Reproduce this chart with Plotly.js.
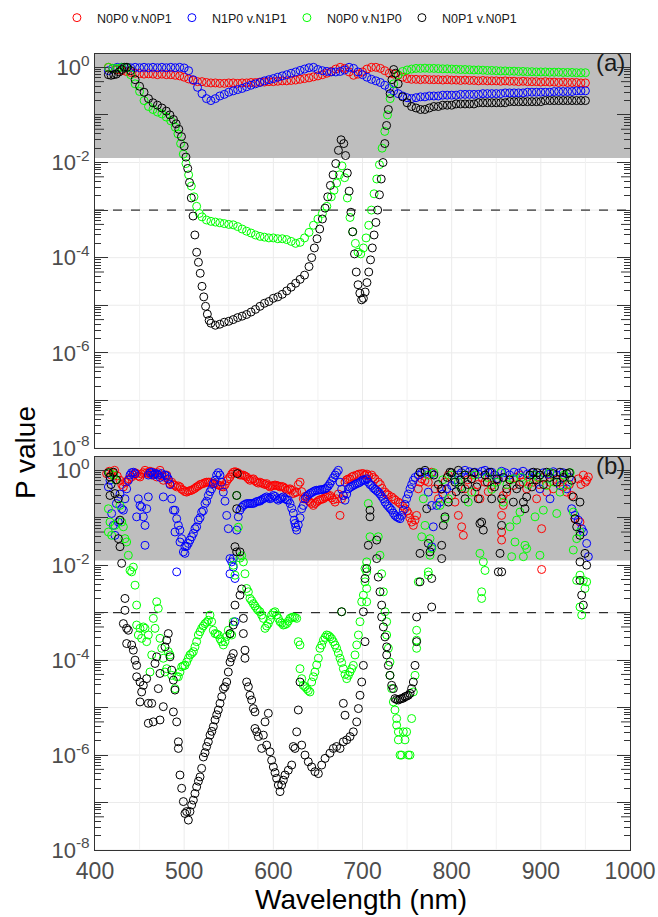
<!DOCTYPE html>
<html><head><meta charset="utf-8">
<script src="https://cdn.plot.ly/plotly-3.0.1.min.js"></script>
<style>html,body{margin:0;padding:0;background:#fff}#chart{width:658px;height:917px}</style>
</head><body><div id="chart"></div>
<script>
// ---------- legend / series names ----------
const seriesNames = ['N0P0 v.N0P1', 'N1P0 v.N1P1', 'N0P0 v.N1P0', 'N0P1 v.N0P1'];
const seriesColors = ['#FF0000', '#0000FF', '#00FF00', '#000000'];

// ---------- panel (a): P values ----------
const wlA = [415,420,425,430,435,440,445,450,455,460,465,470,475,480,485,490,495,500,505,510,515,520,525,530,535,540,545,550,555,560,565,570,575,580,585,590,595,600,605,610,615,620,625,630,635,640,645,650,655,660,665,670,675,680,685,690,695,700,705,710,715,720,725,730,735,740,745,750,755,760,765,770,775,780,785,790,795,800,805,810,815,820,825,830,835,840,845,850,855,860,865,870,875,880,885,890,895,900,905,910,915,920,925,930,935,940,945,950];
const redA = [1.0,0.95,0.9,0.85,0.82,0.78,0.75,0.74,0.72,0.73,0.72,0.7,0.72,0.7,0.7,0.68,0.66,0.62,0.57,0.53,0.5,0.5,0.48,0.47,0.47,0.46,0.46,0.47,0.47,0.46,0.47,0.47,0.48,0.48,0.49,0.49,0.5,0.5,0.51,0.52,0.52,0.53,0.54,0.56,0.58,0.6,0.63,0.66,0.7,0.75,0.82,0.92,1.0,0.95,0.8,0.68,0.72,0.8,0.92,1.0,1.0,0.95,0.85,0.75,0.72,0.68,0.62,0.58,0.56,0.56,0.55,0.56,0.55,0.55,0.55,0.54,0.55,0.54,0.54,0.53,0.54,0.53,0.53,0.52,0.53,0.52,0.52,0.52,0.51,0.52,0.51,0.51,0.5,0.51,0.5,0.5,0.5,0.49,0.5,0.49,0.49,0.48,0.49,0.48,0.48,0.48,0.47,0.47];
const blueA = [0.85,0.95,1.0,1.0,1.0,0.98,1.0,0.98,1.0,0.98,1.0,0.98,1.0,0.98,1.0,0.98,1.0,0.97,0.85,0.55,0.38,0.28,0.22,0.2,0.22,0.25,0.27,0.3,0.32,0.34,0.36,0.39,0.42,0.45,0.48,0.52,0.55,0.58,0.62,0.66,0.7,0.75,0.8,0.86,0.92,0.98,1.0,0.9,0.85,0.82,0.8,0.8,0.82,0.88,1.0,0.95,0.8,0.7,0.62,0.56,0.52,0.48,0.42,0.36,0.32,0.28,0.25,0.23,0.22,0.23,0.24,0.24,0.25,0.25,0.25,0.26,0.26,0.26,0.26,0.27,0.27,0.27,0.27,0.27,0.28,0.28,0.28,0.28,0.28,0.29,0.29,0.29,0.29,0.29,0.3,0.3,0.3,0.3,0.3,0.3,0.31,0.31,0.31,0.31,0.31,0.32,0.32,0.32];
const wlGreenA = [415,420,425,430,435,440,445,450,455,460,465,470,475,480,485,490,493,496,499,502,505,508,511,514,517,520,525,530,535,540,545,550,555,560,565,570,575,580,585,590,595,600,605,610,615,620,625,630,635,640,645,650,655,660,665,668,671,674,677,680,683,686,689,692,695,698,701,704,707,710,713,716,719,722,725,728,731,735,740,745,750,755,760,765,770,775,780,785,790,795,800,805,810,815,820,825,830,835,840,845,850,855,860,865,870,875,880,885,890,895,900,905,910,915,920,925,930,935,940,945,950];
const greenA = [1.0,0.95,0.95,1.0,1.0,0.7,0.45,0.31,0.2,0.15,0.13,0.115,0.105,0.09,0.075,0.055,0.04,0.025,0.015,0.0095,0.0055,0.0032,0.0019,0.0012,0.00085,0.00072,0.00062,0.00058,0.00056,0.00054,0.00052,0.0005,0.00049,0.00045,0.0004,0.00036,0.00033,0.0003,0.00028,0.00027,0.00026,0.00026,0.00025,0.00025,0.00024,0.00022,0.0002,0.00021,0.00026,0.00034,0.00048,0.00065,0.00085,0.0012,0.0019,0.0026,0.0037,0.0055,0.0085,0.0048,0.0018,0.0007,0.00035,0.0002,0.00013,0.00012,0.00016,0.00026,0.00048,0.001,0.0022,0.0045,0.009,0.02,0.045,0.1,0.22,0.45,0.7,0.82,0.88,0.92,0.95,0.95,0.96,0.95,0.95,0.94,0.93,0.93,0.92,0.91,0.9,0.9,0.89,0.88,0.88,0.87,0.86,0.86,0.85,0.84,0.84,0.83,0.83,0.82,0.82,0.81,0.81,0.8,0.8,0.8,0.79,0.79,0.79,0.78,0.78,0.78,0.77,0.77,0.77];
const wlBlackA = [415,418,421,424,427,430,433,436,440,445,450,455,460,465,470,475,480,484,488,491,494,497,500,502,504,506,508,510,512,514,516,518,520,522,524,526,528,530,535,540,545,550,555,560,565,570,575,580,585,590,595,600,605,610,615,620,625,630,635,640,643,646,649,652,655,658,661,664,667,670,673,676,679,681,683,685,687,689,691,693,695,697,699,701,703,705,707,709,711,713,715,717,719,721,723,725,727,729,731,733,735,737,740,745,750,755,760,765,770,775,780,785,790,795,800,805,810,815,820,825,830,835,840,845,850,855,860,865,870,875,880,885,890,895,900,905,910,915,920,925,930,935,940,945,950];
const blackA = [0.7,0.68,0.7,0.72,0.8,0.9,1.0,1.0,0.85,0.55,0.4,0.3,0.22,0.18,0.16,0.14,0.12,0.1,0.08,0.065,0.05,0.035,0.022,0.013,0.0075,0.0038,0.0018,0.00075,0.0003,0.00013,0.00008,0.000047,0.000025,0.000015,0.0000095,0.0000065,0.0000048,0.0000042,0.0000038,0.000004,0.0000044,0.0000046,0.000005,0.0000055,0.0000059,0.0000064,0.0000072,0.0000082,0.0000095,0.000011,0.000012,0.000014,0.000015,0.000017,0.00002,0.000024,0.000029,0.000035,0.000043,0.000065,0.0001,0.00016,0.00025,0.0004,0.00065,0.0011,0.0019,0.0033,0.0055,0.0095,0.018,0.03,0.025,0.014,0.006,0.0025,0.0009,0.00035,0.00012,0.00005,0.000027,0.000018,0.000013,0.000014,0.000019,0.00003,0.00005,0.00009,0.00016,0.0003,0.00055,0.001,0.0021,0.0045,0.01,0.025,0.06,0.13,0.28,0.55,0.9,0.75,0.45,0.24,0.18,0.15,0.14,0.13,0.13,0.14,0.15,0.15,0.16,0.16,0.16,0.17,0.17,0.17,0.17,0.17,0.18,0.18,0.18,0.18,0.18,0.18,0.18,0.19,0.19,0.19,0.19,0.19,0.19,0.19,0.19,0.2,0.2,0.2,0.2,0.2,0.2,0.2,0.2,0.2,0.2];

// ---------- panel (b): [wavelength nm, log10(P value)] ----------
const bRedPts = [[413,-0.07],[416,-0.02],[418,-0.1],[420,-0.05],[422,0],[425,-0.12],[428,-0.21],[430,-0.3],[431.8,-0.35],[433.6,-0.25],[435.5,-0.25],[438,-0.18],[441.1,-0.14],[443,-0.1],[444.9,-0.05],[446.7,-0.07],[448.6,-0.12],[450.5,-0.14],[452.3,-0.08],[454.2,-0.05],[456.1,0],[458,-0.05],[459.8,-0.07],[461.7,-0.02],[463.6,-0.1],[465.4,-0.04],[467.3,-0.08],[469.2,-0.14],[471,-0.05],[472.9,0],[474.8,-0.12],[476.6,-0.21],[478.5,-0.15],[480.4,-0.1],[482.2,-0.2],[484.1,-0.28],[486,-0.25],[487.9,-0.3],[489.7,-0.32],[491.6,-0.35],[493.5,-0.33],[495.3,-0.35],[497.2,-0.4],[499.1,-0.42],[500.9,-0.45],[502.8,-0.46],[504.7,-0.44],[506.5,-0.43],[508.4,-0.42],[510.3,-0.4],[512.1,-0.38],[514,-0.35],[515.9,-0.33],[517.8,-0.3],[519.6,-0.29],[521.5,-0.28],[523.4,-0.26],[525.2,-0.25],[527.1,-0.25],[529,-0.25],[530.8,-0.27],[532.7,-0.28],[534.6,-0.28],[536.5,-0.3],[538.3,-0.31],[540.2,-0.32],[542,-0.34],[544,-0.35],[546,-0.3],[548,-0.22],[549.5,-0.18],[551.4,-0.14],[553.3,-0.08],[555.1,-0.04],[557,-0.03],[558.9,-0.04],[560.7,-0.06],[562.6,-0.1],[564.5,-0.1],[566.4,-0.1],[568.2,-0.12],[570.1,-0.14],[572,-0.18],[573.8,-0.21],[575.7,-0.19],[577.6,-0.18],[579.4,-0.22],[581.3,-0.25],[583.2,-0.27],[585,-0.25],[586.9,-0.27],[588.8,-0.28],[590.7,-0.3],[592.5,-0.28],[594.4,-0.32],[596.3,-0.35],[598.1,-0.33],[600,-0.32],[601.9,-0.31],[603.7,-0.32],[605.6,-0.33],[607.5,-0.35],[609.3,-0.34],[611.2,-0.35],[613.1,-0.38],[615,-0.42],[616.8,-0.4],[618.7,-0.39],[620.6,-0.42],[622.4,-0.49],[624.3,-0.47],[626.2,-0.46],[628,-0.3],[630,-0.25],[631.8,-0.45],[633.6,-0.6],[635.5,-0.55],[637.4,-0.6],[639.2,-0.64],[641.1,-0.67],[643,-0.7],[644.9,-0.74],[646.7,-0.7],[648.6,-0.67],[650.5,-0.64],[652.3,-0.62],[654.2,-0.61],[656.1,-0.6],[658,-0.57],[659.8,-0.56],[661.7,-0.54],[663.5,-0.53],[665.4,-0.58],[667.3,-0.62],[669.2,-0.67],[671,-0.6],[672.9,-0.5],[674.8,-0.95],[676.6,-0.6],[678.5,-0.53],[680.4,-0.25],[682.3,-0.2],[684.2,-0.18],[686,-0.18],[688,-0.14],[690,-0.12],[693.5,-0.1],[696,-0.08],[699,-0.07],[701,-0.07],[702.8,-0.1],[705,-0.08],[707,-0.12],[710.3,-0.1],[712,-0.15],[714,-0.18],[717.7,-0.25],[720,-0.3],[722,-0.38],[725.2,-0.46],[727,-0.5],[729,-0.52],[732.7,-0.56],[735,-0.6],[737,-0.63],[740.2,-0.67],[742,-0.7],[745,-0.75],[747.7,-0.81],[750,-0.86],[751.4,-0.91],[753,-1.0],[755.1,-1.09],[757,-1.16],[758.9,-1.05],[760.7,-0.95],[762.6,-0.39],[764.5,-0.25],[766.4,-0.18],[770,-0.22],[773.8,-0.25],[777.6,-0.04],[781.3,-0.39],[785.1,-0.6],[788,-0.4],[792.5,-0.25],[796.3,-0.1],[800,-0.53],[803.7,-0.67],[807.5,-0.95],[811.2,-1.19],[813.1,-1.37],[815,-0.39],[818,-0.2],[822.4,-0.1],[826.1,-0.46],[829,-0.3],[831.7,-0.6],[834,-0.15],[837.4,-0.25],[841,-0.45],[844.9,-0.32],[848,-0.1],[852,-0.2],[856,-0.95],[856,-1.3],[856,-1.47],[857.9,-0.53],[857.9,-0.74],[861.7,-0.46],[865,-0.2],[869.2,-0.32],[872,-0.15],[876.6,-0.1],[880,-0.25],[884.1,-0.39],[888,-0.2],[891.6,-0.25],[895.3,-0.6],[898,-0.3],[900.9,-1.23],[900.9,-2.09],[903,-0.15],[906.5,-0.46],[910,-0.25],[914,-0.39],[918,-0.2],[921.5,-0.25],[925,-0.35],[929,-0.46],[932,-0.3],[934.6,-0.53],[938.3,-1.02],[942,-0.18],[943.9,-1.09],[945,-0.3],[947.7,-0.1],[950,-0.25],[951.4,-0.21],[953.3,-0.14]];
const bBluePts = [[415,-0.35],[416.8,-0.21],[418.7,-0.91],[420.6,-1.16],[422.4,-1.37],[424,-0.7],[426.2,-1.09],[428,-0.5],[430,-0.81],[431.8,-0.84],[433.6,-0.6],[435.5,-0.39],[437.4,-0.21],[439.3,-0.1],[441,-0.05],[443,-0.04],[444.9,-0.07],[446.7,-0.98],[448.6,-0.6],[450.5,-0.74],[452.3,-0.77],[454.2,-0.98],[456.1,-1.16],[456.1,-1.58],[458,-0.81],[459.8,-0.56],[459.8,-0.1],[461.7,-0.05],[463.6,-0.04],[465.4,-0.1],[467.3,-0.07],[469.2,-0.07],[471,-0.1],[473,-0.15],[474.8,-0.07],[476.6,-0.56],[478.5,-0.1],[480.4,-0.12],[482.2,-0.18],[484.1,-0.3],[486,-0.6],[487.9,-0.84],[489.7,-0.84],[489.7,-1.3],[491.6,-1.02],[491.6,-2.14],[493.5,-1.16],[495.3,-1.26],[495.3,-1.51],[497.2,-1.44],[499.1,-1.72],[500.9,-1.75],[500.9,-1.61],[502.8,-1.6],[504.7,-1.54],[506.5,-1.47],[508.4,-1.4],[510.3,-1.33],[512.1,-1.23],[514,-1.19],[515.9,-1.05],[517.8,-1.0],[519.6,-0.88],[521.5,-0.85],[523.4,-0.7],[525.2,-0.65],[527.1,-0.53],[529,-0.45],[530.8,-0.39],[532.7,-0.28],[534.6,-0.21],[536.4,-0.1],[538.3,-0.05],[540.2,-0.1],[542,-0.25],[543.9,-0.46],[545.8,-0.65],[547.7,-0.95],[549.5,-1.23],[551.4,-1.86],[551.4,-2.18],[553.3,-1.93],[555.1,-2.04],[557,-2.28],[555.1,-1.86],[557,-3.19],[558.9,-1.26],[560.7,-0.98],[562.6,-0.84],[564.5,-0.78],[566.4,-0.74],[568.2,-0.72],[570.1,-0.7],[572,-0.7],[573.8,-0.7],[575.7,-0.7],[577.6,-0.7],[579.4,-0.68],[581.3,-0.66],[583.2,-0.65],[585,-0.65],[586.9,-0.62],[588.8,-0.6],[590.7,-0.58],[592.5,-0.56],[594.4,-0.58],[596.3,-0.6],[598.1,-0.57],[600,-0.53],[601.9,-0.55],[603.7,-0.6],[605.6,-0.63],[607.5,-0.6],[609.3,-0.58],[611.2,-0.56],[613.1,-0.6],[615,-0.62],[616.8,-0.63],[618.7,-0.7],[620.6,-0.8],[622.4,-0.9],[623.4,-1.05],[624.3,-1.12],[625.2,-1.2],[626.2,-1.26],[628,-1.15],[630,-1.0],[631.8,-0.81],[633.6,-0.74],[635.5,-0.6],[637.4,-0.55],[639.2,-0.52],[641.1,-0.49],[643,-0.47],[644.9,-0.45],[646.7,-0.43],[648.6,-0.42],[650.5,-0.42],[652.3,-0.41],[654.2,-0.41],[656.1,-0.4],[658,-0.39],[659.8,-0.37],[661.7,-0.33],[663.5,-0.28],[665.4,-0.22],[667.3,-0.16],[669.2,-0.1],[671,-0.05],[672.9,0],[674.8,-0.25],[676.6,-0.4],[678.5,-0.53],[680.4,-0.63],[682.3,-0.5],[684.2,-0.39],[686,-0.36],[687.9,-0.34],[689.7,-0.32],[691.6,-0.3],[693.5,-0.28],[695.4,-0.27],[697.2,-0.25],[699.1,-0.22],[701,-0.2],[702.8,-0.21],[704.7,-0.18],[706.5,-0.25],[708.4,-0.3],[710.3,-0.32],[712.1,-0.37],[714,-0.4],[715.9,-0.43],[717.7,-0.46],[719.6,-0.5],[721.5,-0.55],[723.4,-0.6],[725.2,-0.67],[727.1,-0.72],[729,-0.76],[730.8,-0.8],[732.7,-0.84],[734.6,-0.9],[736.4,-0.95],[738.3,-0.98],[740.2,-1.0],[742.1,-1.02],[743.9,-0.95],[745.8,-0.84],[747.7,-0.72],[749.5,-0.6],[751.4,-0.5],[753.3,-0.39],[755.1,-0.3],[757,-0.21],[759,-0.15],[762.6,-0.1],[766.4,-0.06],[770.1,-0.04],[773.8,-0.46],[777.6,-0.07],[777.6,-0.74],[779.4,-1.19],[777.6,-1.61],[783.2,-0.74],[786.9,-0.67],[790,-0.5],[794.4,-0.39],[800,-0.32],[803.7,-0.2],[807.5,-0.1],[811,-0.05],[815,0],[820,-0.03],[826.1,-0.04],[830,-0.08],[834,-0.02],[837.4,0],[841,-0.05],[844.9,-0.04],[848,-0.1],[852.3,-0.18],[856,-0.02],[860,-0.05],[865,-0.1],[870,-0.04],[875,-0.06],[880,-0.02],[885,-0.08],[890,-0.05],[895,-0.1],[899,-0.39],[903,-0.05],[908,-0.08],[910.3,-0.6],[914,-0.03],[918,-0.1],[921.5,-0.32],[925,-0.05],[929,-0.39],[932,-0.15],[934.6,-0.81],[938.3,-0.95],[942,-1.05],[945.8,-1.23],[947.7,-1.3],[951.4,-1.54],[953.3,-1.82]];
const bGreenPts = [[416,-0.05],[421,-0.1],[423,-0.2],[415,-0.81],[416.8,-1.09],[415,-1.3],[418.7,-1.37],[422.4,-1.16],[428,-0.74],[430,-1.09],[431.8,-1.19],[433.6,-1.44],[435.5,-1.51],[437.4,-1.79],[439.3,-2.11],[441.1,-2.14],[443,-2.04],[444.9,-2.42],[446.7,-2.84],[446.7,-3.26],[448.6,-3.47],[450.5,-3.33],[452.3,-3.54],[454.2,-3.3],[456.1,-3.33],[457.9,-3.61],[459.8,-3.47],[461.7,-4.25],[463.6,-3.89],[465.4,-3.12],[467.3,-3.33],[469.2,-2.77],[471,-2.91],[472.9,-3.54],[474.8,-3.75],[476.6,-3.96],[478.5,-4.25],[480.4,-4.18],[482.2,-3.82],[484.1,-3.89],[486,-4.32],[489.7,-4.6],[491.6,-4.35],[493.5,-4.35],[495.3,-4.25],[497.2,-4.14],[499,-4.12],[500.9,-4.11],[502.8,-4.04],[504.7,-3.96],[506.5,-3.89],[508.4,-3.86],[510.3,-3.82],[512.1,-3.72],[514,-3.61],[515.9,-3.47],[517.8,-3.4],[519.6,-3.33],[521.5,-3.28],[523.4,-3.23],[525.3,-3.2],[527.1,-3.16],[529,-3.05],[530.8,-3.19],[532.7,-3.37],[534.6,-3.44],[536.5,-3.45],[538.3,-3.47],[540.2,-3.55],[542,-3.61],[543.9,-3.68],[545.8,-3.61],[547.7,-3.5],[549.5,-3.37],[551.4,-3.45],[553.3,-3.47],[555.1,-3.19],[555.1,-2.0],[557,-2.21],[558.9,-0.53],[560.7,-1.2],[562.6,-1.85],[564.5,-1.8],[566.4,-1.93],[568.2,-2.18],[570.1,-2.49],[572,-2.56],[573.8,-2.7],[575.7,-2.75],[577.6,-2.81],[579.4,-2.86],[581.3,-2.91],[583,-2.95],[585,-2.98],[586.9,-3.05],[588.8,-3.12],[590.7,-3.33],[592.5,-3.28],[594.4,-3.23],[596.3,-3.15],[598.1,-3.05],[600,-3.0],[601.9,-2.98],[603.7,-3.05],[605.6,-3.12],[607.5,-3.19],[609.4,-3.22],[611.2,-3.26],[613.1,-3.25],[615,-3.23],[616.8,-3.18],[618.7,-3.12],[620.6,-3.1],[622.4,-3.09],[624.3,-3.1],[626.2,-3.12],[628,-3.61],[629.9,-3.68],[629.9,-4.18],[631.8,-4.39],[633.6,-4.53],[635.5,-4.56],[637.4,-4.6],[639.2,-4.64],[641.1,-4.67],[643,-4.46],[644.9,-4.35],[646.7,-4.25],[648.6,-4.1],[650.5,-3.96],[652.3,-3.75],[654.2,-3.68],[656.1,-3.58],[658,-3.52],[659.8,-3.47],[661.7,-3.48],[663.5,-3.51],[665.4,-3.55],[667.3,-3.61],[669.2,-3.68],[671,-3.75],[672.9,-3.85],[674.8,-3.96],[676.6,-4.05],[678.5,-4.18],[680.4,-4.3],[682.3,-4.39],[684.2,-4.32],[686,-4.25],[687.9,-4.18],[689.7,-4.11],[691.6,-3.89],[693.5,-3.68],[695.4,-3.47],[697.2,-3.19],[699.1,-2.77],[701,-2.63],[702.8,-2.35],[702.8,-2.07],[676.6,-2.98],[704.7,-1.93],[704.7,-2.14],[704.7,-2.49],[704.7,-2.77],[708.4,-1.4],[706.5,-0.7],[717.7,-1.4],[719.6,-1.79],[721.5,-2.18],[723.4,-2.56],[725.2,-2.98],[727.1,-3.19],[727.1,-3.47],[729,-3.75],[730.8,-4.04],[730.8,-4.32],[732.7,-4.6],[734.6,-4.88],[736.4,-5.05],[738.3,-5.23],[738.3,-5.37],[740.2,-5.51],[740.2,-5.68],[742.1,-6.0],[743.9,-6.0],[745.8,-5.51],[747.7,-5.68],[749.5,-5.51],[751.4,-6.0],[753.3,-6.0],[755.1,-5.23],[757,-4.67],[758.9,-4.32],[760.7,-3.75],[760.7,-3.58],[760.7,-3.37],[762.6,-2.35],[766.4,-1.4],[768.2,-0.6],[770.1,-1.16],[773.8,-2.14],[773.8,-2.21],[773.8,-0.1],[775.7,-1.79],[775.7,-1.44],[777.6,-1.65],[780,-0.05],[786.9,-0.74],[790,-0.2],[792.5,-1.02],[796.3,-0.6],[800,-0.1],[807.5,-0.25],[810,-0.35],[815,-0.1],[818.6,-0.67],[822.4,-0.46],[826,-0.1],[831.7,-1.75],[835.5,-1.93],[837.4,-2.11],[833.6,-2.56],[833.6,-2.7],[840,-0.15],[845,-0.4],[850.5,-0.25],[855,-0.05],[858,-0.67],[862,-0.3],[865.4,-1.19],[867.3,-1.82],[869.2,-0.18],[871,-1.51],[872.9,-1.05],[876.6,-0.88],[878,-0.15],[880.4,-1.82],[882.2,-1.58],[884.1,-1.65],[886,-0.3],[891.6,-0.1],[893.5,-0.98],[897,-0.15],[899,-1.79],[902.8,-0.84],[906.5,-0.32],[910,-0.05],[915,-0.25],[917.8,-0.91],[921.5,-0.46],[926,-0.1],[930,-0.3],[933,-0.05],[936.4,-0.88],[940.2,-1.44],[936.4,-1.68],[940.2,-2.32],[943.9,-2.21],[947.7,-2.32],[951.4,-2.35],[949.5,-2.49],[943.9,-2.88],[945.8,-3.05],[943.9,-1.3]];
const bBlackPts = [[415,-0.05],[416.8,-0.14],[418,-0.3],[420.6,-0.04],[422.4,-0.49],[416.8,-0.53],[424,-0.2],[426.2,-0.6],[428,-1.05],[426.2,-1.44],[428,-1.61],[429.9,-1.96],[431.8,-3.23],[433.6,-2.7],[433.6,-2.95],[435.5,-3.33],[437.4,-3.37],[435.5,-3.65],[441.1,-3.68],[443,-3.79],[444.9,-4.0],[446.7,-4.11],[446.7,-4.35],[450.5,-4.46],[452.3,-4.67],[450.5,-4.88],[454.2,-4.53],[457.9,-4.39],[459.8,-4.91],[459.8,-5.33],[465.4,-5.3],[463.6,-4.91],[467.3,-4.07],[469.2,-3.93],[472.9,-4.28],[471,-4.6],[472.9,-5.26],[476.6,-4.98],[478.5,-3.72],[480.4,-3.58],[482.2,-3.44],[484.1,-3.93],[486,-4.21],[487.9,-4.42],[489.7,-4.63],[487.9,-5.09],[491.6,-5.3],[493.5,-5.72],[493.5,-5.86],[495.3,-6.42],[497.2,-6.7],[499.1,-6.98],[500.9,-7.23],[502.8,-7.19],[504.7,-7.37],[506.5,-7.19],[508.4,-7.05],[510.3,-6.95],[512.1,-6.81],[514,-6.67],[516,-6.55],[517.8,-6.46],[519.6,-6.28],[521.5,-6.04],[523.4,-5.95],[525.2,-5.82],[527.1,-5.72],[529,-5.58],[531,-5.5],[532.7,-5.4],[534.6,-5.26],[536.5,-5.15],[538.3,-5.05],[540.2,-4.91],[542.1,-4.77],[544,-4.6],[545.8,-4.56],[547.7,-4.46],[549.5,-4.25],[551.4,-4.04],[553,-3.95],[555.1,-3.86],[551.4,-3.44],[555.1,-3.26],[557,-2.84],[562.6,-2.63],[558.9,-1.72],[562.6,-1.72],[557,-1.61],[558.9,-0.81],[558.9,-0.53],[559.6,-0.07],[564.5,-2.5],[566.4,-3.12],[566.4,-3.44],[568.2,-3.79],[568.2,-3.96],[570.1,-4.46],[572,-4.56],[573.8,-4.74],[575.7,-4.84],[577.6,-5.02],[579.4,-5.09],[579.4,-5.44],[581.3,-5.51],[583.2,-5.61],[586.9,-5.86],[588.8,-5.58],[590.7,-5.3],[594.4,-5.12],[592.5,-5.79],[596.3,-5.93],[598.1,-6.11],[600,-6.25],[601.9,-6.37],[603.7,-6.49],[605.6,-6.63],[607.5,-6.77],[609.3,-6.63],[611.2,-6.53],[613.1,-6.42],[616.8,-6.32],[620.6,-6.21],[622.4,-5.82],[624.3,-5.86],[626.2,-5.51],[628,-5.05],[629.9,-4.46],[631.8,-5.79],[635.5,-6.0],[639.2,-6.14],[643,-6.25],[646.7,-6.35],[650.5,-6.39],[654.2,-6.21],[658,-6.07],[663.5,-5.96],[667.3,-5.86],[671,-5.82],[674.8,-5.86],[678.5,-5.72],[682.3,-5.68],[686,-5.61],[689.7,-5.51],[693.5,-5.3],[695.4,-5.02],[697.2,-4.74],[699.1,-4.46],[701,-4.11],[702.8,-3.61],[701,-2.98],[702.8,-2.28],[704.7,-2.07],[678.5,-4.91],[680.4,-5.16],[676.6,-2.98],[706.5,-1.58],[708.4,-0.84],[708.4,-0.98],[715.9,-1.47],[715.9,-1.86],[717.7,-2.25],[719.6,-2.56],[721.5,-2.84],[721.5,-3.09],[723.4,-3.3],[725.2,-3.51],[727.1,-3.72],[727.1,-3.89],[729,-4.11],[730.8,-4.32],[732.7,-4.53],[734.6,-4.6],[736.4,-4.81],[738.3,-4.83],[740.2,-4.84],[742,-4.82],[743.9,-4.81],[745.8,-4.8],[747.7,-4.77],[749.5,-4.76],[751.4,-4.74],[753.3,-4.7],[755.1,-4.6],[757,-4.46],[758.9,-4.11],[760.7,-3.61],[760.7,-3.09],[764.5,-2.35],[777.6,-2.28],[777.6,-2.88],[764.5,-1.75],[773.8,-1.54],[775.7,-1.72],[788.8,-1.58],[788.8,-1.86],[790.6,-1.16],[792.5,-0.98],[772,-0.81],[770.1,0],[764.5,-0.04],[780,-0.1],[785,-0.3],[788.8,-0.39],[795,-0.15],[796.3,-0.67],[798.1,-0.04],[800,-0.05],[803.7,-0.25],[805,-0.45],[807.5,0],[810,-0.2],[811.2,-0.39],[815,-0.1],[815,-0.6],[818,-0.3],[822.4,-0.18],[825,-0.05],[828,-0.35],[829.9,-0.6],[831.7,-1.12],[833.6,-1.09],[835.5,-1.26],[837.4,-0.1],[840,-0.25],[843,-0.04],[844.9,-0.6],[848,-0.35],[850.5,-0.18],[852.3,-2.14],[854.2,-1.75],[856.1,-2.14],[856,-1.16],[856,-0.6],[858,-0.15],[861.7,-0.39],[865,-0.2],[869.2,-0.67],[872.9,-0.39],[876,-0.3],[880.4,-0.67],[882.2,-0.81],[884.1,-0.56],[887.8,-0.1],[890,-0.35],[891.6,-0.04],[895,-0.2],[896,-0.05],[899,-0.1],[903,-0.3],[906.5,-0.04],[910,-0.15],[914,-0.07],[918,-0.25],[921.5,-0.04],[925,-0.15],[929,-0.07],[932,-0.05],[934.6,-0.21],[936.4,-0.56],[938.3,-1.02],[940.2,-1.19],[943.9,-1.37],[943.9,-0.67],[949.5,-1.75],[943.9,-1.93],[951.4,-2.0],[943.9,-2.32],[945.8,-2.63],[947.7,-2.84]];

// ---------- axis tick labels ----------
const decadeVals = [1, 1e-1, 1e-2, 1e-3, 1e-4, 1e-5, 1e-6, 1e-7, 1e-8];
const decadeText = ['10<sup>0</sup>', '', '10<sup>-2</sup>', '', '10<sup>-4</sup>', '', '10<sup>-6</sup>', '', '10<sup>-8</sup>'];
const xTickVals = [400, 500, 600, 700, 800, 900, 1000];
const xGridVals = [450, 500, 550, 600, 650, 700, 750, 800, 850, 900, 950];
const sigLevel = 0.0125;   // shaded region boundary
const dashLevel = 0.001;   // dashed reference line

// ---------- build ----------
const FONT = 'Liberation Sans, Arial, sans-serif';
const xs = p => p.map(d => d[0]);
const ys = p => p.map(d => Math.pow(10, d[1]));

function trace(x, y, i, xa, ya, show) {
  return {type: 'scatter', mode: 'markers', x: x, y: y, name: seriesNames[i],
    xaxis: xa, yaxis: ya, showlegend: show, hoverinfo: 'skip',
    marker: {symbol: 'circle-open', size: 8, color: seriesColors[i], line: {width: 1, color: seriesColors[i]}}};
}
const data = [
  trace(wlA, redA, 0, 'x2', 'y2', true),
  trace(wlA, blueA, 1, 'x2', 'y2', true),
  trace(wlGreenA, greenA, 2, 'x2', 'y2', true),
  trace(wlBlackA, blackA, 3, 'x2', 'y2', true),
  trace(xs(bRedPts), ys(bRedPts), 0, 'x', 'y', false),
  trace(xs(bBluePts), ys(bBluePts), 1, 'x', 'y', false),
  trace(xs(bGreenPts), ys(bGreenPts), 2, 'x', 'y', false),
  trace(xs(bBlackPts), ys(bBlackPts), 3, 'x', 'y', false)
];

const minorVals = [];
const midVals = [];
for (let e = -8; e <= 0; e++) {
  [2, 3, 4, 6, 7, 8, 9].forEach(k => { const v = k * Math.pow(10, e - 1); if (v > 1e-8) minorVals.push(v); });
  const m = 5 * Math.pow(10, e - 1); if (m > 1e-8) midVals.push(m);
}
const YTOP = 0.28;
const yCommon = {
  type: 'log', range: [-8, YTOP], tickmode: 'array', tickvals: decadeVals, ticktext: decadeText,
  ticks: 'inside', ticklen: 13, tickwidth: 1, tickcolor: '#333333', mirror: 'allticks',
  showline: true, linecolor: '#333333', linewidth: 1, showgrid: false,
  zeroline: false, tickfont: {family: FONT, size: 22, color: '#4d4d4d'},
  minor: {tickmode: 'array', tickvals: minorVals, ticks: 'inside', ticklen: 6, tickwidth: 1, tickcolor: '#333333', showgrid: false}
};
const xCommon = {
  range: [400, 1000], tickmode: 'array', tickvals: xTickVals, showline: true, mirror: true,
  linecolor: '#333333', linewidth: 1, showgrid: false, zeroline: false
};

// shapes on these log axes take plain data values
const shapes = [];
[['x', 'y'], ['x2', 'y2']].forEach(([xa, ya]) => {
  decadeVals.forEach(v => {
    shapes.push({type: 'line', xref: xa + ' domain', yref: ya, x0: 0, x1: 1, y0: v, y1: v,
      line: {color: '#ebebeb', width: 1}, layer: 'below'});
  });
  xGridVals.forEach(v => {
    shapes.push({type: 'line', xref: xa, yref: ya + ' domain', x0: v, x1: v, y0: 0, y1: 1,
      line: {color: v % 100 === 0 ? '#ebebeb' : '#f1f1f1', width: 1}, layer: 'below'});
  });
  shapes.push({type: 'rect', xref: xa + ' domain', yref: ya, x0: 0, x1: 1,
    y0: sigLevel, y1: Math.pow(10, YTOP), fillcolor: '#bebebe', line: {width: 0}, layer: 'below'});
  shapes.push({type: 'line', xref: xa + ' domain', yref: ya, x0: 0, x1: 1,
    y0: dashLevel, y1: dashLevel, line: {color: '#000000', width: 1, dash: 'dash'}, layer: 'below'});
  midVals.forEach(v => {
    shapes.push({type: 'line', xref: xa + ' domain', yref: ya, x0: 0, x1: 9 / 535, y0: v, y1: v, line: {color: '#333333', width: 1}});
    shapes.push({type: 'line', xref: xa + ' domain', yref: ya, x0: 1 - 9 / 535, x1: 1, y0: v, y1: v, line: {color: '#333333', width: 1}});
  });
});

const layout = {
  width: 658, height: 917, margin: {l: 95, r: 28, t: 54, b: 67, autoexpand: false},
  paper_bgcolor: '#ffffff', plot_bgcolor: '#ffffff', font: {family: FONT, color: '#000000'},
  showlegend: true,
  legend: {orientation: 'h', x: -0.0712, xanchor: 'left', y: 1.0452, yanchor: 'middle',
    font: {family: FONT, size: 12.5, color: '#1a1a1a'}, bgcolor: 'rgba(0,0,0,0)', itemwidth: 30,
    entrywidth: 70, entrywidthmode: 'pixels'},
  xaxis: Object.assign({}, xCommon, {anchor: 'y', ticks: '',
    tickfont: {family: FONT, size: 23, color: '#4d4d4d'}}),
  xaxis2: Object.assign({}, xCommon, {anchor: 'y2', matches: 'x', showticklabels: false, ticks: ''}),
  yaxis: Object.assign({}, yCommon, {domain: [0, 0.4937], anchor: 'x'}),
  yaxis2: Object.assign({}, yCommon, {domain: [0.505, 1], anchor: 'x2'}),
  shapes: shapes,
  annotations: [
    {text: 'P value', xref: 'paper', yref: 'paper', x: -0.131, y: 0.5, textangle: -90, showarrow: false,
      font: {family: FONT, size: 28, color: '#000000'}, xanchor: 'center', yanchor: 'middle'},
    {text: 'Wavelength (nm)', xref: 'paper', yref: 'paper', x: 0.498, y: -0.062, showarrow: false,
      font: {family: FONT, size: 28, color: '#000000'}, xanchor: 'center', yanchor: 'middle'},
    {text: '(a)', xref: 'paper', yref: 'paper', x: 0.963, y: 0.989, showarrow: false,
      font: {family: FONT, size: 24, color: '#1a1a1a'}, xanchor: 'center', yanchor: 'middle'},
    {text: '(b)', xref: 'paper', yref: 'paper', x: 0.963, y: 0.483, showarrow: false,
      font: {family: FONT, size: 24, color: '#1a1a1a'}, xanchor: 'center', yanchor: 'middle'}
  ]
};

Plotly.newPlot('chart', data, layout, {staticPlot: true, displayModeBar: false});
</script>
</body></html>
